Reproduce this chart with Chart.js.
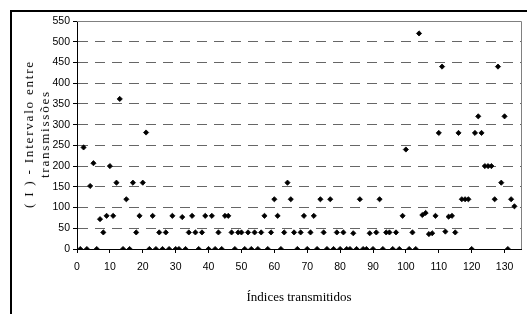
<!DOCTYPE html>
<html>
<head>
<meta charset="utf-8">
<script src="https://cdn.jsdelivr.net/npm/chart.js@4.4.1/dist/chart.umd.min.js"></script>
<style>
  html,body{margin:0;padding:0;background:#fff;overflow:hidden;}
  #wrap{position:relative;width:527px;height:314px;overflow:hidden;}
  #frame{position:absolute;left:10px;top:10px;width:600px;height:400px;border:2px solid #000;}
  canvas{position:absolute;left:0;top:0;}
  #ytitle{position:absolute;left:37px;top:134px;transform:translate(-50%,-50%) rotate(-90deg);
    font-family:"Liberation Serif","Times New Roman",serif;font-size:13px;line-height:16px;
    letter-spacing:1.8px;text-align:center;white-space:nowrap;color:#000;}
</style>
</head>
<body>
<div id="wrap">
  <div id="frame"></div>
  <canvas id="chart" width="527" height="314"></canvas>
  <div id="ytitle">( I ) - Intervalo entre<br>transmissões</div>
</div>
<script>
// intervalo entre transmissoes, one value per indice (1..133)
const intervalos = [
  0,245,0,152,207,0,72,40,80,200,      // 1-10
  80,160,362,0,120,0,160,40,80,160,    // 11-20
  281,0,80,0,40,0,40,0,80,0,           // 21-30
  0,77,0,40,80,40,0,40,80,0,           // 31-40
  80,0,40,0,80,80,40,0,40,40,          // 41-50
  0,40,0,40,0,40,80,0,40,120,          // 51-60
  80,0,40,160,120,40,0,40,80,0,        // 61-70
  40,80,0,120,40,0,120,0,40,0,         // 71-80
  40,0,0,38,0,120,0,0,38,0,            // 81-90
  40,120,0,40,40,0,40,0,80,240,        // 91-100
  0,40,0,520,82,87,36,38,80,280,       // 101-110
  440,42,78,80,40,280,120,120,120,0,   // 111-120
  280,320,280,200,200,200,120,440,160,320, // 121-130
  0,120,103                            // 131-133
];
const xTicks = [0,10,20,30,40,50,60,70,80,90,100,110,120,130];
const xTitle = "Índices transmitidos";
const xMax = 135;
const yMax = 550;

const points = intervalos.map((v, i) => ({x: i + 1, y: v}));

const plotBorder = {
  id: "plotBorder",
  beforeDatasetsDraw(chart){
    const {ctx, chartArea: a} = chart;
    ctx.save();
    ctx.strokeStyle = "#808080";
    ctx.lineWidth = 1;
    ctx.beginPath();
    ctx.moveTo(a.left, a.top + 0.5);
    ctx.lineTo(a.right + 0.5, a.top + 0.5);
    ctx.lineTo(a.right + 0.5, a.bottom);
    ctx.stroke();
    ctx.restore();
  }
};

const tickFont = {family: "'Liberation Sans Narrow','Arial Narrow','Liberation Sans',Arial,sans-serif", size: 10.5};

new Chart(document.getElementById("chart"), {
  type: "scatter",
  data: {
    datasets: [{
      data: points,
      pointStyle: "rectRot",
      radius: 2.6,
      hoverRadius: 2.6,
      backgroundColor: "#000",
      borderColor: "#000",
      borderWidth: 0.8
    }]
  },
  options: {
    responsive: false,
    animation: false,
    events: [],
    layout: {padding: {left: 0, top: 21, right: 6, bottom: 0}},
    plugins: {legend: {display: false}, tooltip: {enabled: false}},
    scales: {
      x: {
        type: "linear",
        min: 0, max: xMax,
        afterBuildTicks: s => { s.ticks = xTicks.map(v => ({value: v})); },
        afterFit: s => { s.height = 65; },
        ticks: {color: "#000", font: tickFont, padding: 8, maxRotation: 0, autoSkip: false},
        grid: {drawOnChartArea: false, drawTicks: true, tickLength: 4, tickColor: "#000"},
        border: {display: true, color: "#000", width: 1},
        title: {display: true, text: xTitle, color: "#000", padding: {top: 0, bottom: 9},
                font: {family: "'Liberation Serif','Times New Roman',serif", size: 13}}
      },
      y: {
        min: 0, max: yMax,
        afterFit: s => { s.width = 77; },
        ticks: {stepSize: 50, color: "#000", font: tickFont, padding: 3},
        grid: {color: "#666", lineWidth: 1, tickLength: 4, tickColor: "#000", tickBorderDash: []},
        border: {display: true, color: "#000", width: 1, dash: [10, 7]}
      }
    }
  },
  plugins: [plotBorder]
});
</script>
</body>
</html>
